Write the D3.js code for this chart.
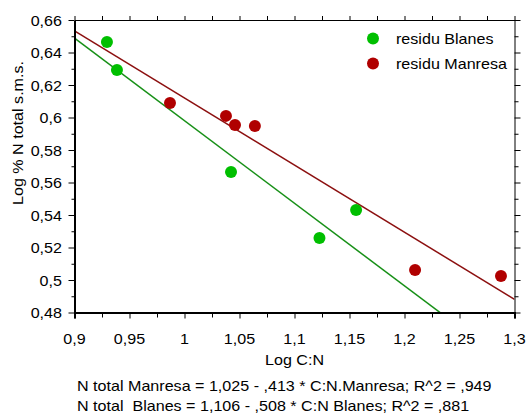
<!DOCTYPE html>
<html><head><meta charset="utf-8">
<script src="https://cdn.jsdelivr.net/npm/d3@7"></script>
<style>body{margin:0;background:#fff}svg{display:block}text{font-family:"Liberation Sans",Arial,sans-serif;fill:#000;white-space:pre}</style>
</head><body><svg id="c" width="528" height="414"></svg>
<script>
const blanesX = [0.9295, 0.9386, 1.0423, 1.1227, 1.1560];
const blanesY = [0.6465, 0.6292, 0.5665, 0.5258, 0.5431];
const manresaX = [0.9868, 1.0377, 1.0459, 1.0640, 1.2096, 1.2877];
const manresaY = [0.6089, 0.6010, 0.5954, 0.5948, 0.5062, 0.5025];
const fitNames = ["Manresa", "Blanes"];
const fitIntercept = [1.025, 1.106];
const fitSlope = [-0.413, -0.508];
const xTicks = [0.9, 0.95, 1, 1.05, 1.1, 1.15, 1.2, 1.25, 1.3];
const xTickLabels = ["0,9", "0,95", "1", "1,05", "1,1", "1,15", "1,2", "1,25", "1,3"];
const yTicks = [0.48, 0.5, 0.52, 0.54, 0.56, 0.58, 0.6, 0.62, 0.64, 0.66];
const yTickLabels = ["0,48", "0,5", "0,52", "0,54", "0,56", "0,58", "0,6", "0,62", "0,64", "0,66"];
const legendLabels = ["residu Blanes", "residu Manresa"];
const equations = ["N total Manresa = 1,025 - ,413 * C:N.Manresa; R^2 = ,949",
                   "N total  Blanes = 1,106 - ,508 * C:N Blanes; R^2 = ,881"];

const dotColors = ["#00bf00", "#b00000"];
const lineColors = ["#8c1010", "#179017"]; // Manresa, Blanes
const SX = 1.15;

const svg = d3.select("#c");
const L = 74.5, R = 514.5, T = 20, B = 312.5;
const x = d3.scaleLinear().domain([0.9, 1.3]).range([L, R]);
const y = d3.scaleLinear().domain([0.48, 0.66]).range([B, T]);

function txt(g, s, px, py, anchor, size, rot) {
  return g.append("text")
    .attr("xml:space", "preserve")
    .attr("transform", `translate(${px},${py})` + (rot ? ` rotate(${rot})` : "") + ` scale(${SX},1)`)
    .attr("text-anchor", anchor).style("font-size", size + "px").text(s);
}

// clip
svg.append("clipPath").attr("id", "clip").append("rect")
  .attr("x", L).attr("y", T).attr("width", R - L).attr("height", B - T);

// regression lines
const plot = svg.append("g").attr("clip-path", "url(#clip)");
fitNames.forEach((n, i) => {
  const f = v => fitIntercept[i] + fitSlope[i] * v;
  plot.append("line")
    .attr("x1", x(0.9)).attr("y1", y(f(0.9)))
    .attr("x2", x(1.3)).attr("y2", y(f(1.3)))
    .attr("stroke", lineColors[i]).attr("stroke-width", 1.5);
});

// points
const bl = d3.zip(blanesX, blanesY), mr = d3.zip(manresaX, manresaY);
svg.append("g").selectAll("circle").data(bl).join("circle")
  .attr("cx", d => x(d[0])).attr("cy", d => y(d[1])).attr("r", 6).attr("fill", dotColors[0]);
svg.append("g").selectAll("circle").data(mr).join("circle")
  .attr("cx", d => x(d[0])).attr("cy", d => y(d[1])).attr("r", 6).attr("fill", dotColors[1]);

// axes
const xMinor = d3.range(0.925, 1.3, 0.05);
const yMinor = d3.range(0.49, 0.66, 0.02);
const ax = svg.append("g").attr("stroke", "#000");
// bottom
ax.append("g").attr("transform", `translate(0,${B})`)
  .call(d3.axisBottom(x).tickValues(xTicks).tickSize(6).tickFormat(""))
  .call(g => g.select(".domain").attr("stroke-width", 2));
ax.append("g").attr("transform", `translate(0,${B})`)
  .call(d3.axisBottom(x).tickValues(xMinor).tickSize(5).tickFormat("").tickSizeOuter(0))
  .call(g => g.select(".domain").remove());
// top
ax.append("g").attr("transform", `translate(0,${T})`)
  .call(d3.axisTop(x).tickValues(xTicks.concat(xMinor)).tickSize(4).tickFormat("").tickSizeOuter(0));
// left
ax.append("g").attr("transform", `translate(${L},0)`)
  .call(d3.axisLeft(y).tickValues(yTicks).tickSize(6).tickFormat("").tickSizeOuter(0))
  .call(g => g.select(".domain").attr("stroke-width", 2));
ax.append("g").attr("transform", `translate(${L},0)`)
  .call(d3.axisLeft(y).tickValues(yMinor).tickSize(3).tickFormat("").tickSizeOuter(0))
  .call(g => g.select(".domain").remove());
// right
ax.append("g").attr("transform", `translate(${R},0)`)
  .call(d3.axisRight(y).tickValues(yTicks).tickSize(6).tickFormat("").tickSizeOuter(0));
ax.append("g").attr("transform", `translate(${R},0)`)
  .call(d3.axisRight(y).tickValues(yMinor).tickSize(4).tickFormat("").tickSizeOuter(0))
  .call(g => g.select(".domain").remove());
svg.selectAll(".tick line").attr("stroke", "#000");
svg.selectAll(".domain").attr("stroke", "#000");

// tick labels
const lab = svg.append("g");
xTicks.forEach((v, i) => txt(lab, xTickLabels[i], x(v), 344, "middle", 14));
yTicks.forEach((v, i) => txt(lab, yTickLabels[i], 62, y(v) + 5.5, "end", 14));

// axis titles
txt(lab, "Log C:N", x(1.1), 365, "middle", 14);
txt(lab, "Log % N total s.m.s.", 23, 133, "middle", 14, -90);

// equations
equations.forEach((e, i) => txt(lab, e, 77, 390.5 + i * 20.5, "start", 14));

// legend
legendLabels.forEach((s, i) => {
  svg.append("circle").attr("cx", 373).attr("cy", 38.5 + i * 25).attr("r", 6).attr("fill", dotColors[i]);
  txt(lab, s, 396, 44 + i * 25, "start", 14);
});
</script></body></html>
